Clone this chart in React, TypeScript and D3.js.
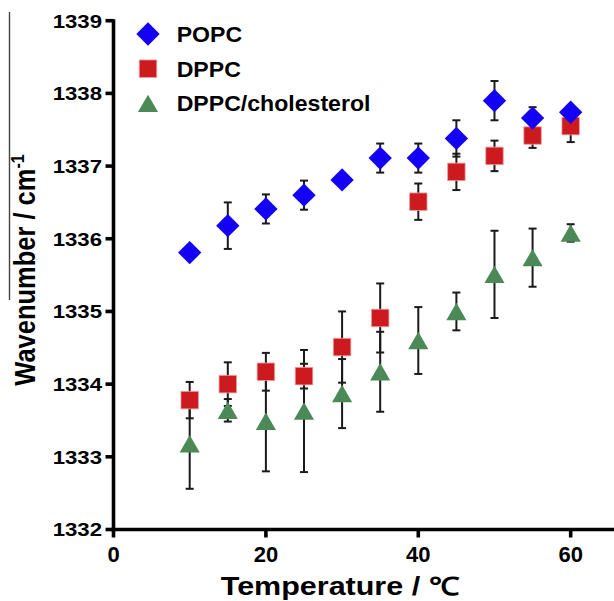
import React from 'react';
import * as d3 from 'd3';

const width = 614;
const height = 601;

const temps = [10, 15, 20, 25, 30, 35, 40, 45, 50, 55, 60];
const popc = [1335.81, 1336.18, 1336.41, 1336.6, 1336.81, 1337.11, 1337.11, 1337.38, 1337.9, 1337.66, 1337.74];
const popcErr = [0.05, 0.32, 0.2, 0.2, 0.05, 0.2, 0.2, 0.25, 0.27, 0.15, 0.08];
const dppc = [1333.78, 1334.0, 1334.17, 1334.11, 1334.51, 1334.91, 1336.51, 1336.92, 1337.14, 1337.42, 1337.55];
const dppcErr = [0.25, 0.3, 0.26, 0.17, 0.49, 0.475, 0.25, 0.25, 0.21, 0.17, 0.22];
const chol = [1333.18, 1333.64, 1333.49, 1333.63, 1333.87, 1334.17, 1334.6, 1335.0, 1335.51, 1335.74, 1336.08];
const cholErr = [0.62, 0.155, 0.69, 0.84, 0.475, 0.55, 0.46, 0.26, 0.6, 0.4, 0.12];

const xTicks = [0, 20, 40, 60];
const yTicks = [1332, 1333, 1334, 1335, 1336, 1337, 1338, 1339];
const seriesNames = ['POPC', 'DPPC', 'DPPC/cholesterol'];

const font = '"Liberation Sans", Arial, sans-serif';

const x = d3.scaleLinear().domain([0, 66]).range([113.5, 616.4]);
const y = d3.scaleLinear().domain([1332, 1339]).range([529.5, 20.7]);

const diamondPath = d3.symbol().type(d3.symbolSquare).size(272)();
const squarePath = d3.symbol().type(d3.symbolSquare).size(306)();
const triSize = 175;
const trianglePath = d3.symbol().type(d3.symbolTriangle).size(triSize)();
const triShift = Math.sqrt(triSize / (Math.sqrt(3) * 3)) / 2;

const series = [
  { name: seriesNames[0], values: popc, err: popcErr, color: '#1400f5', kind: 'diamond' },
  { name: seriesNames[1], values: dppc, err: dppcErr, color: '#cc1a1f', kind: 'square' },
  { name: seriesNames[2], values: chol, err: cholErr, color: '#4b8a57', kind: 'triangle' },
];

function Marker({ kind, cx, cy, color }) {
  if (kind === 'diamond') {
    return <path d={diamondPath} transform={`translate(${cx},${cy}) rotate(45)`} fill={color} />;
  }
  if (kind === 'square') {
    return <path d={squarePath} transform={`translate(${cx},${cy})`} fill={color} stroke="#e8a0a2" strokeWidth="0.8" />;
  }
  return <path d={trianglePath} transform={`translate(${cx},${cy + triShift})`} fill={color} />;
}

export default function App() {
  // draw order: error bars first, then triangles, squares, diamonds on top
  const drawOrder = [series[2], series[1], series[0]];

  return (
    <svg width={width} height={height} style={{ position: 'absolute', left: 0, top: 0, background: '#fff' }}>
      <rect width={width} height={height} fill="#fff" />

      {/* stray rule left of y title */}
      <line x1={9.5} x2={9.5} y1={12} y2={300} stroke="#444" strokeWidth="1.4" />

      {/* error bars */}
      <g stroke="#1a1a1a" strokeWidth="2">
        {series.map(s =>
          temps.map((t, i) => {
            const cx = x(t);
            const top = y(s.values[i] + s.err[i]);
            const bot = y(s.values[i] - s.err[i]);
            return (
              <g key={s.name + i}>
                <line x1={cx} x2={cx} y1={top} y2={bot} />
                <line x1={cx - 4} x2={cx + 4} y1={top} y2={top} />
                <line x1={cx - 4} x2={cx + 4} y1={bot} y2={bot} />
              </g>
            );
          })
        )}
      </g>

      {/* markers */}
      {drawOrder.map(s => (
        <g key={s.name}>
          {temps.map((t, i) => (
            <Marker key={i} kind={s.kind} cx={x(t)} cy={y(s.values[i])} color={s.color} />
          ))}
        </g>
      ))}

      {/* axes */}
      <g stroke="#000" strokeWidth="3.6">
        <line x1={x(0)} x2={x(0)} y1={y(1339) - 1.5} y2={y(1332) + 1.8} />
        <line x1={x(0) - 1.8} x2={width} y1={y(1332)} y2={y(1332)} />
        {yTicks.map(v => (
          <line key={v} x1={x(0) - 8} x2={x(0)} y1={y(v)} y2={y(v)} />
        ))}
        {xTicks.map(v => (
          <line key={v} x1={x(v)} x2={x(v)} y1={y(1332)} y2={y(1332) + 8} />
        ))}
      </g>

      <g fontFamily={font} fontWeight="bold" fill="#000">
        {yTicks.map(v => (
          <text key={v} transform={`translate(102,${y(v) + 6.8}) scale(1.2,1)`} textAnchor="end" fontSize="18.5">
            {v}
          </text>
        ))}
        {xTicks.map(v => (
          <text key={v} x={x(v)} y={562} textAnchor="middle" fontSize="22">
            {v}
          </text>
        ))}

        <text transform="translate(340,595) scale(1.22,1)" textAnchor="middle" fontSize="25">
          Temperature / ℃
        </text>

        <text transform="translate(35,270) scale(1.13,1) rotate(-90)" textAnchor="middle" fontSize="25.5">
          Wavenumber / cm<tspan fontSize="16" dy="-10">-1</tspan>
        </text>

        {/* legend */}
        {series.map((s, i) => {
          const ly = 34 + i * 34.7;
          return (
            <g key={s.name}>
              <Marker kind={s.kind} cx={148} cy={ly} color={s.color} />
              <text transform={`translate(176.7,${ly + 8}) scale(1.05,1)`} fontSize="22">
                {s.name}
              </text>
            </g>
          );
        })}
      </g>
    </svg>
  );
}
